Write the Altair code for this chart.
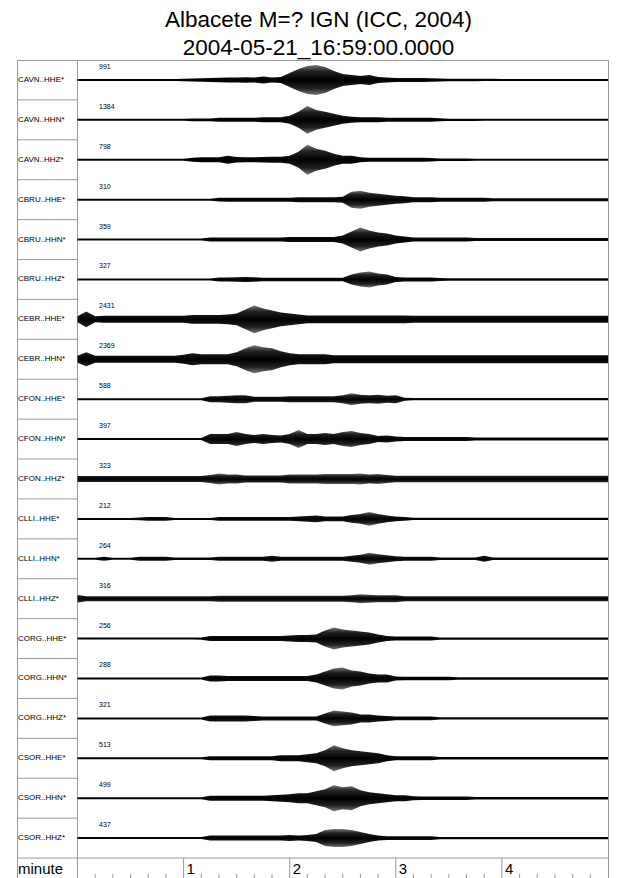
"""
Record section: 20 seismogram traces, Albacete 2004-05-21.
"""

import altair as alt
import pandas as pd

FONT = "Liberation Sans"
LINE = "#9a9a9a"

stations = [
    "CAVN..HHE*", "CAVN..HHN*", "CAVN..HHZ*",
    "CBRU..HHE*", "CBRU..HHN*", "CBRU..HHZ*",
    "CEBR..HHE*", "CEBR..HHN*",
    "CFON..HHE*", "CFON..HHN*", "CFON..HHZ*",
    "CLLI..HHE*", "CLLI..HHN*", "CLLI..HHZ*",
    "CORG..HHE*", "CORG..HHN*", "CORG..HHZ*",
    "CSOR..HHE*", "CSOR..HHN*", "CSOR..HHZ*",
]
max_counts = [991, 1384, 798, 310, 359, 327, 2431, 2369, 588, 397,
              323, 212, 264, 316, 256, 288, 321, 513, 499, 437]

# envelope (half amplitude) read every 5 s from 0 to 300 s, row height = 40
envelopes = [
    # CAVN..HHE*
    [1, 1, 1, 1, 1, 1, 1, 1, 1, 1,
     1, 1, 1.2, 1.5, 1.8, 2, 2.2, 2.5, 2.5, 2.8,
     2.5, 3.5, 2.5, 3, 7, 11, 14, 15, 13, 9,
     6, 5, 4, 5, 3, 2.5, 2, 2, 2, 2,
     1.8, 1.5, 1.3, 1.2, 1.2, 1.2, 1.1, 1.1, 1, 1,
     1, 1, 1, 1, 1, 1, 1, 1, 1, 1, 1],
    # CAVN..HHN*
    [1, 1, 1, 1, 1, 1, 1, 1, 1, 1,
     1, 1, 1, 1.3, 1.3, 1.3, 2, 2, 2, 2,
     2, 2.5, 2.5, 2.5, 4, 8, 14, 10, 8, 6,
     4, 3, 2.5, 2.5, 2.5, 2, 2, 2, 2, 2,
     2, 1.5, 1.2, 1.2, 1.2, 1.2, 1, 1, 1, 1,
     1, 1, 1, 1, 1, 1, 1, 1, 1, 1, 1],
    # CAVN..HHZ*
    [1, 1, 1, 1, 1, 1, 1, 1, 1, 1,
     1, 1, 1, 2, 2.5, 2.5, 2.5, 4, 2.8, 2.5,
     2.5, 2.8, 3, 3, 4, 8, 15, 11, 9, 6,
     4, 4, 2.5, 2, 2, 2, 2, 2, 2, 2,
     1.8, 1.2, 1.2, 1.2, 1.2, 1, 1, 1, 1, 1,
     1, 1, 1, 1, 1, 1, 1, 1, 1, 1, 1],
    # CBRU..HHE*
    [1, 1, 1, 1, 1, 1, 1, 1, 1, 1,
     1, 1, 1, 1, 1, 1, 1.8, 2, 2, 2,
     2, 2, 2, 2, 2, 2.5, 2.5, 2.5, 2.5, 2.5,
     3, 8, 9, 7, 6, 5, 4, 3.5, 2.5, 2.5,
     2.5, 2, 2, 2, 2, 2, 2, 1.5, 1.5, 1.5,
     1.5, 1.5, 1.5, 1.5, 1.5, 1.5, 1.5, 1.5, 1.5, 1.5, 1.5],
    # CBRU..HHN*
    [1, 1, 1, 1, 1, 1, 1, 1, 1, 1,
     1, 1, 1, 1, 1, 2, 2, 2, 2, 2,
     2, 2, 2, 2, 2.5, 2.5, 2.5, 2.5, 2.5, 2.5,
     4, 8, 12, 9, 7, 6, 4, 3, 2, 2,
     2, 2, 2, 2, 2, 1.5, 1.5, 1.5, 1.5, 1.5,
     1.5, 1.5, 1.5, 1.5, 1.5, 1.5, 1.5, 1.5, 1.5, 1.5, 1.5],
    # CBRU..HHZ*
    [1, 1, 1, 1, 1, 1, 1, 1, 1, 1,
     1, 1, 1, 1, 1, 1, 2, 2, 2.2, 2.5,
     2.2, 1.8, 1.8, 1.8, 1.8, 1.8, 1.8, 1.8, 1.8, 1.8,
     1.8, 5, 7, 8, 6, 5, 2.5, 2, 2, 2,
     2, 1.5, 1.2, 1.2, 1.2, 1.2, 1.2, 1.2, 1.2, 1.2,
     1.2, 1.2, 1.2, 1.2, 1.2, 1.2, 1.2, 1.2, 1.2, 1.2, 1.2],
    # CEBR..HHE*
    [3, 8, 3, 3.5, 3.5, 3.5, 3.5, 3.5, 3.5, 3.5,
     3.5, 3.5, 3.5, 4.5, 4.5, 4.5, 4.5, 5, 6, 10,
     14, 11, 9, 7, 6, 5, 4, 4, 4, 4,
     4, 4, 4, 4, 4, 4, 4, 4, 3.5, 3.5,
     3.5, 3.5, 3.5, 3.5, 3.5, 3.5, 3.5, 3.5, 3.5, 3.5,
     3.5, 3.5, 3.5, 3.5, 3.5, 3.5, 3.5, 3.5, 3.5, 3.5, 3.5],
    # CEBR..HHN*
    [3.5, 7, 3.5, 3.5, 3.5, 3.5, 3.5, 3.5, 3.5, 3.5,
     3.5, 3.5, 4.5, 6, 5, 5, 5, 5, 7, 11,
     14, 12, 11, 8, 6, 5, 5, 5, 5, 4,
     4, 4, 4, 4, 4, 4, 4, 4, 4, 4,
     4, 4, 4, 4, 4, 4, 4, 4, 4, 4,
     4, 4, 4, 4, 4, 4, 4, 4, 4, 4, 4],
    # CFON..HHE*
    [1, 1, 1, 1, 1, 1, 1, 1, 1, 1,
     1, 1, 1, 1, 1, 3, 3, 3.5, 4, 4,
     2.5, 2.5, 2.5, 2.5, 3, 3, 3, 3, 3, 3,
     4, 6, 4.5, 4, 4.5, 3.5, 4, 1.5, 1.2, 1.2,
     1.2, 1.2, 1.2, 1.2, 1.2, 1.2, 1.2, 1.2, 1.2, 1.2,
     1.2, 1.2, 1.2, 1.2, 1.2, 1.2, 1.2, 1.2, 1.2, 1.2, 1.2],
    # CFON..HHN*
    [1, 1, 1, 1, 1, 1, 1, 1, 1, 1,
     1, 1, 1, 1, 1, 5, 5, 5, 7, 5,
     4, 5, 4, 3.5, 5, 9, 5, 5, 6, 5,
     7, 8, 6, 5, 3, 3.5, 2.5, 2, 2, 2,
     2, 2, 2, 2, 2, 1.5, 1.5, 1.5, 1.5, 1.5,
     1.5, 1.5, 1.5, 1.5, 1.5, 1.5, 1.5, 1.5, 1.5, 1.5, 1.5],
    # CFON..HHZ*
    [3, 3, 3, 3, 3, 3, 3, 3, 3, 3,
     3, 3, 3, 3, 3, 4, 5.5, 4.5, 4.5, 3.5,
     3.5, 3.5, 3.5, 3.5, 4.5, 4.5, 4.5, 4.5, 5, 5,
     5, 5, 5.5, 4.5, 5, 4, 3.2, 3.2, 3.2, 3.2,
     3.2, 3.2, 3.2, 3.2, 3.2, 3.2, 3.2, 3.2, 3.2, 3.2,
     3.2, 3.2, 3.2, 3.2, 3.2, 3.2, 3.2, 3.2, 3.2, 3.2, 3.2],
    # CLLI..HHE*
    [1, 1, 1, 1, 1, 1, 1, 1.5, 2, 2,
     2, 1, 1, 1, 1, 1, 2, 2, 2, 2,
     2, 2, 2, 2, 2, 2.5, 3, 3.5, 2.5, 2.5,
     2.5, 4, 5, 7, 5, 3.5, 2.5, 2, 1.2, 1.2,
     1.2, 1.2, 1.2, 1.2, 1.2, 1.2, 1.2, 1.2, 1.2, 1.2,
     1.2, 1.2, 1.2, 1.2, 1.2, 1.2, 1.2, 1.2, 1.2, 1.2, 1.2],
    # CLLI..HHN*
    [1, 1, 1, 2, 1, 1, 1, 2, 2, 2,
     2, 1.2, 1.2, 1.2, 1.2, 1.2, 2, 2, 2, 2,
     2, 2, 3, 2, 2, 2, 2, 2, 2, 2,
     2, 3, 4, 6, 4.5, 3.5, 2.5, 2, 2, 2,
     2, 1.2, 1.2, 1.2, 1.2, 1.2, 3, 1.2, 1.2, 1.2,
     1.2, 1.2, 1.2, 1.2, 1.2, 1.2, 1.2, 1.2, 1.2, 1.2, 1.2],
    # CLLI..HHZ*
    [4, 2.5, 2.5, 2.5, 2.5, 2.5, 2.5, 2.5, 2.5, 2.5,
     2.5, 2.5, 2.5, 2.5, 2.5, 2.5, 3, 3, 3, 3,
     3, 3, 3, 3, 3, 3, 3, 3, 3, 3,
     3, 3.5, 4.5, 4, 3.5, 3.5, 3.5, 2.5, 2.5, 2.5,
     2.5, 2.5, 2.5, 2.5, 2.5, 2.5, 2.5, 2.5, 2.5, 2.5,
     2.5, 2.5, 2.5, 2.5, 2.5, 2.5, 2.5, 2.5, 2.5, 2.5, 2.5],
    # CORG..HHE*
    [1, 1, 1, 1, 1, 1, 1, 1, 1, 1,
     1, 1, 1, 1, 1.2, 2.5, 2.5, 2.5, 2.5, 2.5,
     2.5, 2.5, 2.5, 2.5, 3, 3.5, 3.5, 4, 8, 11,
     9, 8, 7, 6, 4, 2.5, 2, 2, 2, 2,
     2, 1.2, 1.2, 1.2, 1.2, 1.2, 1.2, 1.2, 1.2, 1.2,
     1.2, 1.2, 1.2, 1.2, 1.2, 1.2, 1.2, 1.2, 1.2, 1.2, 1.2],
    # CORG..HHN*
    [1, 1, 1, 1, 1, 1, 1, 1, 1, 1,
     1, 1, 1, 1, 1, 3, 3, 2.5, 2.5, 2.5,
     2.5, 2.5, 2.5, 2.5, 2.5, 2.5, 2.5, 4, 7, 10,
     11, 8, 7, 5, 4, 4, 2, 1.8, 1.8, 1.8,
     1.8, 1.8, 1.8, 1.2, 1.2, 1.2, 1.2, 1.2, 1.2, 1.2,
     1.2, 1.2, 1.2, 1.2, 1.2, 1.2, 1.2, 1.2, 1.2, 1.2, 1.2],
    # CORG..HHZ*
    [1, 1, 1, 1, 1, 1, 1, 1, 1, 1,
     1, 1, 1, 1, 1, 3, 3, 3, 3, 3,
     2.5, 2, 2, 2, 2, 2, 2, 2, 5, 8,
     7, 6, 4, 4, 3, 2.5, 1.8, 1.8, 1.8, 1.8,
     1.8, 1.2, 1.2, 1.2, 1.2, 1.2, 1.2, 1.2, 1.2, 1.2,
     1.2, 1.2, 1.2, 1.2, 1.2, 1.2, 1.2, 1.2, 1.2, 1.2, 1.2],
    # CSOR..HHE*
    [1, 1, 1, 1, 1, 1, 1, 1, 1, 1,
     1, 1, 1, 1, 1, 2, 2, 2, 2, 2,
     2, 2, 2, 3, 3, 3, 4, 5, 8, 13,
     10, 8, 7, 6, 5, 3, 2, 2, 2, 2,
     2, 1.2, 1.2, 1.2, 1.2, 1.2, 1.2, 1.2, 1.2, 1.2,
     1.2, 1.2, 1.2, 1.2, 1.2, 1.2, 1.2, 1.2, 1.2, 1.2, 1.2],
    # CSOR..HHN*
    [1, 1, 1, 1, 1, 1, 1, 1, 1, 1,
     1, 1, 1, 1, 1, 2.5, 2.5, 2.5, 2.5, 2.5,
     2.5, 2.5, 3, 3.5, 4, 5, 5, 7, 9, 13,
     11, 12, 8, 6, 5, 4, 3, 3, 2, 1.8,
     1.8, 1.8, 1.8, 1.8, 1.8, 1.2, 1.2, 1.2, 1.2, 1.2,
     1.2, 1.2, 1.2, 1.2, 1.2, 1.2, 1.2, 1.2, 1.2, 1.2, 1.2],
    # CSOR..HHZ*
    [1, 1, 1, 1, 1, 1, 1, 1, 1, 1,
     1, 1, 1, 1, 1, 2.5, 2.5, 2.5, 2.5, 2.5,
     2.5, 2.5, 2.5, 2.5, 3, 2.5, 3, 4, 8, 9,
     9, 8, 6, 4, 2.5, 1.8, 1.8, 1.8, 1.8, 1.8,
     1.8, 1.2, 1.2, 1.2, 1.2, 1.2, 1.2, 1.2, 1.2, 1.2,
     1.2, 1.2, 1.2, 1.2, 1.2, 1.2, 1.2, 1.2, 1.2, 1.2, 1.2],
]

sample_seconds = list(range(0, 301, 5))
minute_ticks = [1, 2, 3, 4]
minute_labels = ["1", "2", "3", "4"]
minor_seconds = [s for s in range(10, 300, 10) if s % 60 != 0]

ROW = 40
TOP = ROW * len(stations)

wave_rows = []
for i, (name, env) in enumerate(zip(stations, envelopes)):
    assert len(env) == len(sample_seconds), name
    base = TOP - ROW * i - ROW / 2
    for s, a in zip(sample_seconds, env):
        wave_rows.append({"trace": name, "minute": s / 60, "hi": base + a, "lo": base - a})
wave = pd.DataFrame(wave_rows)

traces = pd.DataFrame({
    "trace": stations,
    "amp": [str(v) for v in max_counts],
    "base": [TOP - ROW * i - ROW / 2 for i in range(len(stations))],
})

xs = alt.Scale(domain=[-0.57, 5], nice=False, zero=False)
ys = alt.Scale(domain=[-20, TOP], nice=False, zero=False)

seps = pd.DataFrame({"y": [TOP - ROW * k for k in range(1, len(stations))],
                     "x0": -0.57, "x1": 0})
row_lines = alt.Chart(seps).mark_rule(color=LINE, strokeWidth=1).encode(
    x=alt.X("x0:Q", scale=xs, axis=None), x2="x1:Q",
    y=alt.Y("y:Q", scale=ys, axis=None),
)

frame = pd.DataFrame({"x": [0], "y": [0]})
col_line = alt.Chart(frame).mark_rule(color=LINE, strokeWidth=1).encode(
    x=alt.X("x:Q", scale=xs, axis=None))
axis_line = alt.Chart(frame).mark_rule(color=LINE, strokeWidth=1).encode(
    y=alt.Y("y:Q", scale=ys, axis=None))

majors = pd.DataFrame({"minute": minute_ticks, "label": minute_labels, "lo": -20, "hi": 0, "mid": -10})
major_ticks = alt.Chart(majors).mark_rule(color=LINE, strokeWidth=1).encode(
    x=alt.X("minute:Q", scale=xs, axis=None),
    y=alt.Y("lo:Q", scale=ys, axis=None), y2="hi:Q",
)
major_text = alt.Chart(majors).mark_text(
    align="left", baseline="middle", dx=3, dy=1, fontSize=15, font=FONT, color="#000"
).encode(
    x=alt.X("minute:Q", scale=xs, axis=None),
    y=alt.Y("mid:Q", scale=ys, axis=None),
    text="label:N",
)

minors = pd.DataFrame({"minute": [s / 60 for s in minor_seconds], "lo": -20, "hi": -16})
minor_ticks = alt.Chart(minors).mark_rule(color=LINE, strokeWidth=1).encode(
    x=alt.X("minute:Q", scale=xs, axis=None),
    y=alt.Y("lo:Q", scale=ys, axis=None), y2="hi:Q",
)

unit = alt.Chart(pd.DataFrame({"t": ["minute"], "mid": [-10]})).mark_text(
    align="left", baseline="middle", dy=1, fontSize=15, font=FONT, color="#000"
).encode(x=alt.value(1), y=alt.Y("mid:Q", scale=ys, axis=None), text="t:N")

# dark core, grey tips, like a densely drawn seismogram
trace_fill = {
    "gradient": "linear", "x1": 0, "x2": 0, "y1": 0, "y2": 1,
    "stops": [
        {"offset": 0, "color": "#777777"},
        {"offset": 0.22, "color": "#222222"},
        {"offset": 0.5, "color": "#000000"},
        {"offset": 0.78, "color": "#222222"},
        {"offset": 1, "color": "#777777"},
    ],
}
waves = alt.Chart(wave).mark_area(color=trace_fill, interpolate="linear").encode(
    x=alt.X("minute:Q", scale=xs, axis=None),
    y=alt.Y("hi:Q", scale=ys, axis=None),
    y2="lo:Q",
    detail="trace:N",
)

names = alt.Chart(traces).mark_text(
    align="left", baseline="middle", fontSize=8, font=FONT, color="#000"
).encode(x=alt.value(1), y=alt.Y("base:Q", scale=ys, axis=None), text="trace:N")

amps = alt.Chart(traces).mark_text(
    align="left", baseline="middle", dy=-13, fontSize=7, font=FONT, color="#000"
).encode(x=alt.value(82), y=alt.Y("base:Q", scale=ys, axis=None), text="amp:N")

chart = (
    alt.layer(row_lines, col_line, axis_line, major_ticks, minor_ticks,
              waves, names, amps, major_text, unit)
    .properties(
        width=591,
        height=818,
        padding={"left": 8, "top": 0, "right": 0, "bottom": 0},
        title=alt.TitleParams(
            ["Albacete M=? IGN (ICC, 2004)", "2004-05-21_16:59:00.0000"],
            fontSize=22.5, font=FONT, fontWeight="normal", color="#000",
            lineHeight=28, offset=0.5, anchor="middle", dx=6,
        ),
    )
    .configure_view(stroke=LINE, strokeWidth=1)
)

chart.save("out.html", embed_options={"renderer": "svg", "actions": False})
